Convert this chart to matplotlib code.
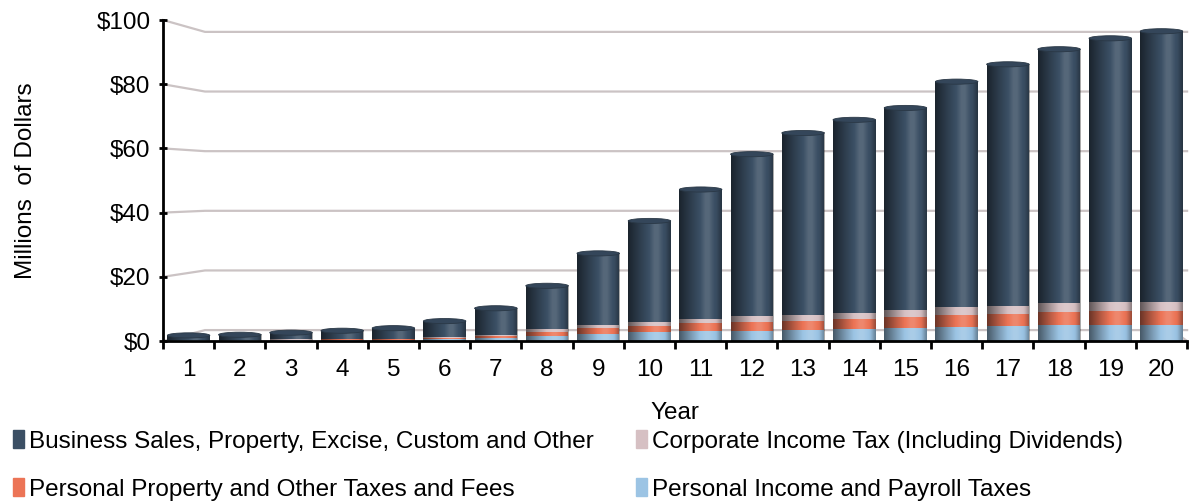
import numpy as np
import matplotlib
matplotlib.use("Agg")
import matplotlib.pyplot as plt
from matplotlib.patches import Patch, Ellipse

plt.rcParams['font.family'] = ['Liberation Sans', 'DejaVu Sans']

# data (millions of dollars)
years = [str(i) for i in range(1, 21)]
personal_income = [0.2, 0.2, 0.3, 0.3, 0.4, 0.6, 1.0, 1.6, 2.2, 2.7,
                   3.0, 3.2, 3.5, 3.7, 4.2, 4.5, 4.8, 5.0, 5.0, 5.0]
personal_property = [0.1, 0.1, 0.1, 0.2, 0.2, 0.4, 0.7, 1.3, 1.9, 2.1,
                     2.5, 2.6, 2.7, 3.0, 3.3, 3.6, 3.7, 4.1, 4.3, 4.4]
corporate = [0.05, 0.05, 0.1, 0.1, 0.1, 0.2, 0.3, 0.8, 1.0, 1.0,
             1.3, 1.9, 2.0, 2.1, 2.3, 2.4, 2.5, 2.6, 2.7, 2.8]
business = [1.4, 1.6, 2.1, 2.6, 3.3, 5.0, 8.2, 13.5, 22.2, 31.6,
            40.4, 50.5, 56.6, 60.1, 62.8, 70.3, 75.2, 79.2, 82.3, 84.3]
yticks = [0, 20, 40, 60, 80, 100]

labels = ['Business Sales, Property, Excise, Custom and Other',
          'Corporate Income Tax (Including Dividends)',
          'Personal Property and Other Taxes and Fees',
          'Personal Income and Payroll Taxes']
colors = ['#3b4f64', '#d6c0c3', '#ec7456', '#9cc4e4']

fig = plt.figure(figsize=(12.02, 5.04), dpi=100)
ax = fig.add_axes([0.1356, 0.3234, 0.852, 0.6369])

x = np.arange(len(years))
w = 0.83
fs = 17.5

# back wall gridlines (fake 3D: front tick -> back wall)
def back(v):
    return 3.4 + 0.929 * v

for v in yticks:
    ax.plot([-0.5, 0.32, 19.5], [v, back(v), back(v)], color='#cbc3c4',
            lw=1.6, zorder=0, clip_on=False)
ax.plot([19.2, 19.5], [back(0), 0], color='#cbc3c4', lw=1.6, zorder=0, clip_on=False)

# stacked bars
stack = [personal_income, personal_property, corporate, business]
stack_colors = [colors[3], colors[2], colors[1], colors[0]]
bottom = np.zeros(len(x))
for vals, c in zip(stack, stack_colors):
    vals = np.array(vals)
    ax.bar(x, vals, w, bottom=bottom, color=c, zorder=2, linewidth=0)
    bottom = bottom + vals

# cylinder shading
t = np.linspace(0, 1, 80)
shade = np.interp(t, [0, 0.3, 0.62, 0.7, 0.88, 1.0], [-0.55, -0.2, 0.14, 0.14, -0.05, -0.35])
grad = np.zeros((1, len(t), 4))
grad[0, :, :3] = np.where(shade[:, None] > 0, 1.0, 0.0)
grad[0, :, 3] = np.abs(shade)
for xi, top in zip(x, bottom):
    ax.imshow(grad, extent=(xi - w / 2, xi + w / 2, 0, top), aspect='auto',
              interpolation='bilinear', zorder=3)
    ax.add_patch(Ellipse((xi, top), w, 1.6, facecolor='#34465a',
                         edgecolor='#2a3846', lw=0.6, zorder=4))

ax.set_xlim(-0.5, 19.5)
ax.set_ylim(0, 100)

ax.set_yticks(yticks)
ax.set_yticklabels(['$%d' % v for v in yticks], fontsize=fs)
ax.set_xticks(x)
ax.set_xticklabels(years, fontsize=fs)
ax.set_xticks(np.arange(-0.5, 20, 1), minor=True)
ax.tick_params(axis='x', which='major', length=0, pad=13)
ax.tick_params(axis='x', which='minor', length=6, width=2, direction='out')
ax.tick_params(axis='y', length=6, width=2, direction='inout', pad=6)

for s in ['top', 'right']:
    ax.spines[s].set_visible(False)
for s in ['left', 'bottom']:
    ax.spines[s].set_linewidth(2)
    ax.spines[s].set_zorder(5)

ax.set_xlabel('Year', fontsize=fs, labelpad=15)
ax.set_ylabel('Millions  of Dollars', fontsize=fs, labelpad=43)

handles = [Patch(color=colors[0]), Patch(color=colors[2]),
           Patch(color=colors[1]), Patch(color=colors[3])]
hl = [labels[0], labels[2], labels[1], labels[3]]
fig.legend(handles, hl, loc='upper left', bbox_to_anchor=(-0.003, 0.18),
           ncol=2, frameon=False, fontsize=fs, handlelength=0.45,
           handleheight=0.75, handletextpad=0.2, columnspacing=1.75,
           labelspacing=1.05, borderaxespad=0.3)

fig.savefig('out.png', dpi=100)
